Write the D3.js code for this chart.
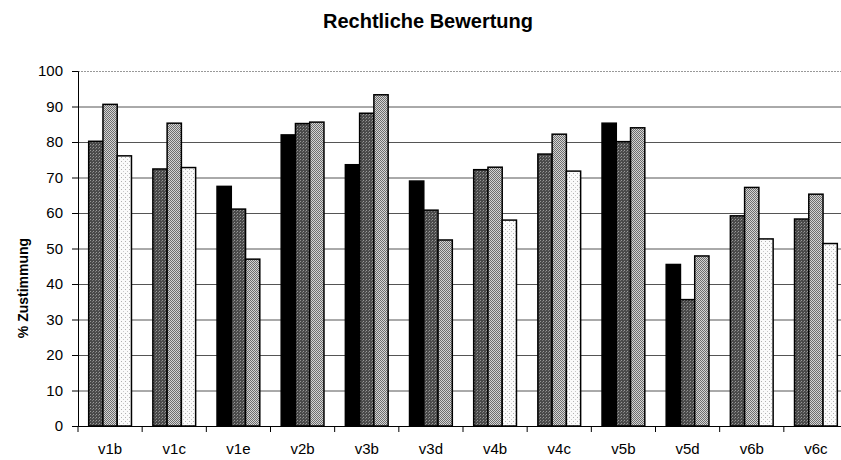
<!DOCTYPE html>
<html>
<head>
<meta charset="utf-8">
<script src="https://cdn.jsdelivr.net/npm/d3@7"></script>
<style>
  body { margin: 0; background: #fff; overflow: hidden; }
  svg { display: block; font-family: "Liberation Sans", Arial, sans-serif; }
</style>
</head>
<body>
<svg width="841" height="460"></svg>
<script>
// categories and values (per cent agreement), null = no bar in that series
var categories = ["v1b", "v1c", "v1e", "v2b", "v3b", "v3d", "v4b", "v4c", "v5b", "v5d", "v6b", "v6c"];
var seriesBlack   = [null, null, 67.5, 82.0, 73.6, 69.0, null, null, 85.3, 45.5, null, null];
var seriesStipple = [80.2, 72.4, 61.1, 85.2, 88.1, 60.8, 72.2, 76.6, 80.1, 35.6, 59.2, 58.3];
var seriesGray    = [90.6, 85.3, 47.0, 85.6, 93.3, 52.4, 72.9, 82.2, 84.0, 47.9, 67.2, 65.3];
var seriesWhite   = [76.1, 72.8, null, null, null, null, 58.0, 71.8, null, null, 52.7, 51.4];
var yTicks = [0, 10, 20, 30, 40, 50, 60, 70, 80, 90, 100];

var seriesList = [
  { name: "black", values: seriesBlack, fill: "#000" },
  { name: "stipple", values: seriesStipple, fill: "url(#stipple)" },
  { name: "gray", values: seriesGray, fill: "url(#check)" },
  { name: "white", values: seriesWhite, fill: "url(#dots)" }
];

// note: "top" would clash with window.top
var marginLeft = 78, marginTop = 71, plotW = 770, plotH = 355;

var svg = d3.select("svg");

/* fill patterns, imitating the printed hatching */
var defs = svg.append("defs");
var p1 = defs.append("pattern").attr("id", "stipple").attr("patternUnits", "userSpaceOnUse")
  .attr("width", 3).attr("height", 3);
p1.append("rect").attr("width", 3).attr("height", 3).attr("fill", "#4a4a4a");
p1.append("rect").attr("x", 0).attr("y", 0).attr("width", 1).attr("height", 1).attr("fill", "#9a9a9a");
p1.append("rect").attr("x", 2).attr("y", 1).attr("width", 1).attr("height", 1).attr("fill", "#7a7a7a");

var p2 = defs.append("pattern").attr("id", "check").attr("patternUnits", "userSpaceOnUse")
  .attr("width", 2).attr("height", 2);
p2.append("rect").attr("width", 2).attr("height", 2).attr("fill", "#d4d4d4");
p2.append("rect").attr("x", 0).attr("y", 0).attr("width", 1).attr("height", 1).attr("fill", "#6e6e6e");
p2.append("rect").attr("x", 1).attr("y", 1).attr("width", 1).attr("height", 1).attr("fill", "#6e6e6e");

var p3 = defs.append("pattern").attr("id", "dots").attr("patternUnits", "userSpaceOnUse")
  .attr("width", 4).attr("height", 4);
p3.append("rect").attr("width", 4).attr("height", 4).attr("fill", "#fafafa");
p3.append("rect").attr("x", 1).attr("y", 1).attr("width", 1).attr("height", 1).attr("fill", "#b0b0b0");
p3.append("rect").attr("x", 3).attr("y", 3).attr("width", 1).attr("height", 1).attr("fill", "#c8c8c8");

var x = d3.scaleBand().domain(categories).range([marginLeft, marginLeft + plotW]).padding(0);
var y = d3.scaleLinear().domain([0, 100]).range([marginTop + plotH, marginTop]);
// three bars per category, Excel-like gap width of 150%
var xInner = d3.scaleBand().domain([0, 1, 2]).range([0, x.bandwidth()])
  .paddingInner(0).paddingOuter(0.75);

// gridlines
svg.append("g").selectAll("line")
  .data(yTicks.filter(function(d) { return d > 0; }))
  .enter().append("line")
  .attr("x1", marginLeft).attr("x2", marginLeft + plotW)
  .attr("y1", function(d) { return y(d) + 0.5; })
  .attr("y2", function(d) { return y(d) + 0.5; })
  .attr("stroke", function(d) { return d === 100 ? "#999" : "#555"; })
  .attr("stroke-dasharray", function(d) { return d === 100 ? "2,1" : null; })
  .attr("stroke-width", 1);

// build bar list: the present values of each category, left to right
var bars = [];
categories.forEach(function(c, i) {
  var k = 0;
  seriesList.forEach(function(s) {
    if (s.values[i] !== null) {
      bars.push({ cat: c, slot: k, value: s.values[i], fill: s.fill });
      k++;
    }
  });
});

svg.append("g").selectAll("rect")
  .data(bars)
  .enter().append("rect")
  .attr("x", function(d) { return x(d.cat) + xInner(d.slot); })
  .attr("y", function(d) { return y(d.value); })
  .attr("width", xInner.bandwidth())
  .attr("height", function(d) { return y(0) - y(d.value); })
  .attr("fill", function(d) { return d.fill; })
  .attr("stroke", "#000")
  .attr("stroke-width", 1.5);

// y axis
var yAxis = svg.append("g")
  .attr("transform", "translate(" + marginLeft + ",0)")
  .call(d3.axisLeft(y).tickValues(yTicks).tickSize(6).tickPadding(9));
yAxis.selectAll("text").attr("font-size", 15).attr("fill", "#000")
  .attr("font-family", "Liberation Sans, Arial, sans-serif");
yAxis.selectAll("line, path").attr("stroke", "#000");

// x axis, ticks at the category borders
var xAxis = svg.append("g")
  .attr("transform", "translate(0," + (marginTop + plotH) + ")")
  .call(d3.axisBottom(x).tickSize(0).tickPadding(17).tickSizeOuter(0));
xAxis.selectAll("text").attr("font-size", 15).attr("fill", "#000")
  .attr("font-family", "Liberation Sans, Arial, sans-serif");
xAxis.select("path").attr("stroke", "#000").attr("stroke-width", 1.2);
xAxis.selectAll(".border").data(categories).enter().append("line")
  .attr("x1", function(d) { return x(d); }).attr("x2", function(d) { return x(d); })
  .attr("y1", 0).attr("y2", 6).attr("stroke", "#000");

// title and axis label
svg.append("text")
  .attr("x", 428).attr("y", 28)
  .attr("text-anchor", "middle")
  .attr("font-size", 20).attr("font-weight", "bold")
  .text("Rechtliche Bewertung");

svg.append("text")
  .attr("transform", "translate(28,288) rotate(-90)")
  .attr("text-anchor", "middle")
  .attr("font-size", 14).attr("font-weight", "bold")
  .text("% Zustimmung");
</script>
</body>
</html>
